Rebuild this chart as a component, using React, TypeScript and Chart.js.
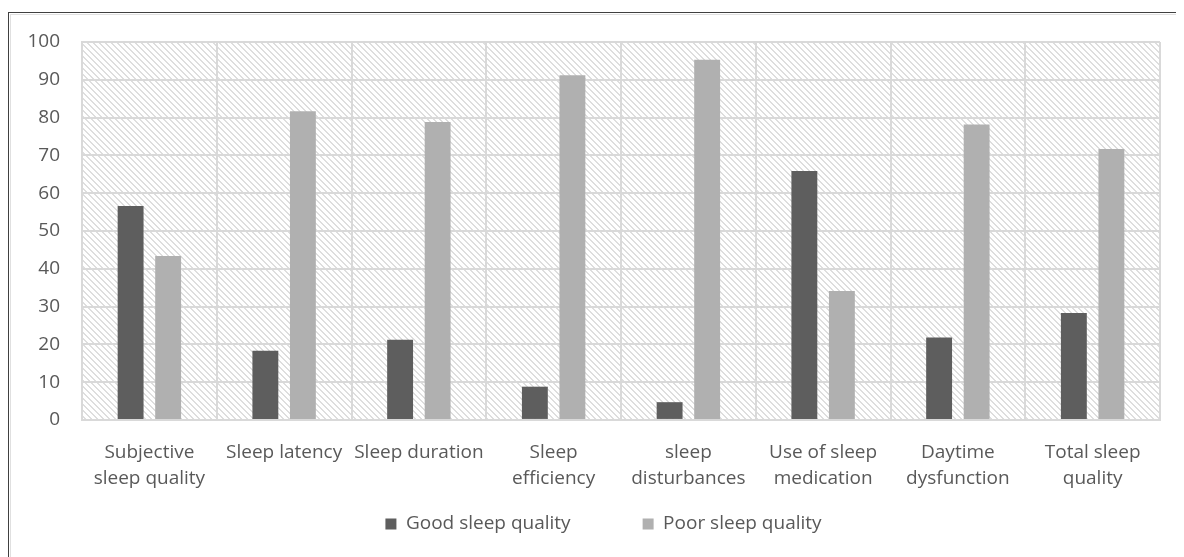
import React, { useEffect, useRef } from "react";
import { Chart, registerables } from "chart.js";

Chart.register(...registerables);

const categories: string[][] = [
  ["Subjective", "sleep quality"],
  ["Sleep latency"],
  ["Sleep duration"],
  ["Sleep", "efficiency"],
  ["sleep", "disturbances"],
  ["Use of sleep", "medication"],
  ["Daytime", "dysfunction"],
  ["Total sleep", "quality"],
];
const goodSleepQuality = [56.6, 18.3, 21.2, 8.8, 4.7, 65.9, 21.8, 28.3];
const poorSleepQuality = [43.4, 81.7, 78.8, 91.2, 95.3, 34.1, 78.2, 71.7];
const seriesNames = ["Good sleep quality", "Poor sleep quality"];
const yMin = 0;
const yMax = 100;
const yStep = 10;

const TEXT = "#595959";
const GRID = "#d9d9d9";
const FONT = "'Open Sans', sans-serif";
const LEGEND_PAD = 72;
const LEGEND_FONT = 19;
const LEGEND_CENTER_Y = 509;

function makeHatch(): CanvasPattern | string {
  const c = document.createElement("canvas");
  c.width = 6;
  c.height = 6;
  const g = c.getContext("2d");
  if (!g) return "#ffffff";
  g.fillStyle = "#ffffff";
  g.fillRect(0, 0, 6, 6);
  g.fillStyle = "#dedede";
  for (let i = 0; i < 6; i++) {
    g.fillRect(i, i, 1, 1);
    g.fillRect((i + 1) % 6, i, 1, 1);
  }
  const p = g.createPattern(c, "repeat");
  return p || "#ffffff";
}

const hatchPlugin = {
  id: "hatchBg",
  afterLayout(chart: any) {
    const lg = chart.legend;
    if (lg) {
      const h = lg.height;
      lg.top = LEGEND_CENTER_Y - LEGEND_PAD - LEGEND_FONT / 2;
      lg.bottom = lg.top + h;
    }
  },
  beforeDraw(chart: any) {
    const { ctx, chartArea } = chart;
    if (!chartArea) return;
    ctx.save();
    ctx.fillStyle = makeHatch();
    ctx.fillRect(
      chartArea.left,
      chartArea.top,
      chartArea.right - chartArea.left,
      chartArea.bottom - chartArea.top
    );
    ctx.restore();
  },
};

export default function App() {
  const ref = useRef<HTMLCanvasElement | null>(null);

  useEffect(() => {
    if (!ref.current) return;
    const chart = new Chart(ref.current, {
      type: "bar",
      data: {
        labels: categories,
        datasets: [
          {
            label: seriesNames[0],
            data: goodSleepQuality,
            backgroundColor: "#5e5e5e",
            categoryPercentage: 0.557,
            barPercentage: 0.69,
            yAxisID: "y",
          },
          {
            label: seriesNames[1],
            data: poorSleepQuality,
            backgroundColor: "#b0b0b0",
            categoryPercentage: 0.557,
            barPercentage: 0.69,
            yAxisID: "y",
          },
        ],
      },
      options: {
        responsive: false,
        animation: false,
        devicePixelRatio: 1,
        layout: { padding: { left: 0, right: 0, top: 27, bottom: 0 } },
        plugins: {
          legend: {
            position: "bottom",
            labels: {
              boxWidth: 11,
              boxHeight: 11,
              padding: LEGEND_PAD,
              color: TEXT,
              font: { family: FONT, size: LEGEND_FONT },
            },
          },
          tooltip: { enabled: false },
        },
        scales: {
          x: {
            grid: { color: GRID, lineWidth: 2, drawTicks: false, offset: true },
            border: { color: GRID, width: 2 },
            ticks: {
              color: TEXT,
              font: { family: FONT, size: 19, lineHeight: 1.37 },
              padding: 20,
              autoSkip: false,
              maxRotation: 0,
              minRotation: 0,
            },
          },
          y: {
            min: yMin,
            max: yMax,
            grid: { color: GRID, lineWidth: 2, drawTicks: false },
            border: { color: GRID, width: 2 },
            ticks: {
              stepSize: yStep,
              color: TEXT,
              font: { family: FONT, size: 19 },
              padding: 22,
            },
            afterFit(scale: any) {
              scale.width = 71;
              scale.paddingTop = 12;
              scale.paddingBottom = 12;
            },
          },
          yRight: {
            position: "right",
            display: true,
            grid: { display: false, drawTicks: false },
            border: { display: false },
            ticks: { display: false },
            afterFit(scale: any) {
              scale.width = 36;
            },
          },
        },
      },
      plugins: [hatchPlugin],
    });
    return () => chart.destroy();
  }, []);

  return (
    <div style={{ paddingTop: 4 }}>
      <div
        style={{
          borderTop: "1px solid #404040",
          borderLeft: "1px solid #404040",
          height: 544,
          overflow: "hidden",
        }}
      >
        <div
          style={{
            marginTop: 1,
            marginLeft: 1,
            borderTop: "1px solid #e0e0e0",
            borderLeft: "1px solid #e0e0e0",
            height: 542,
          }}
        >
          <canvas ref={ref} width={1185} height={598} style={{ display: "block" }} />
        </div>
      </div>
    </div>
  );
}
